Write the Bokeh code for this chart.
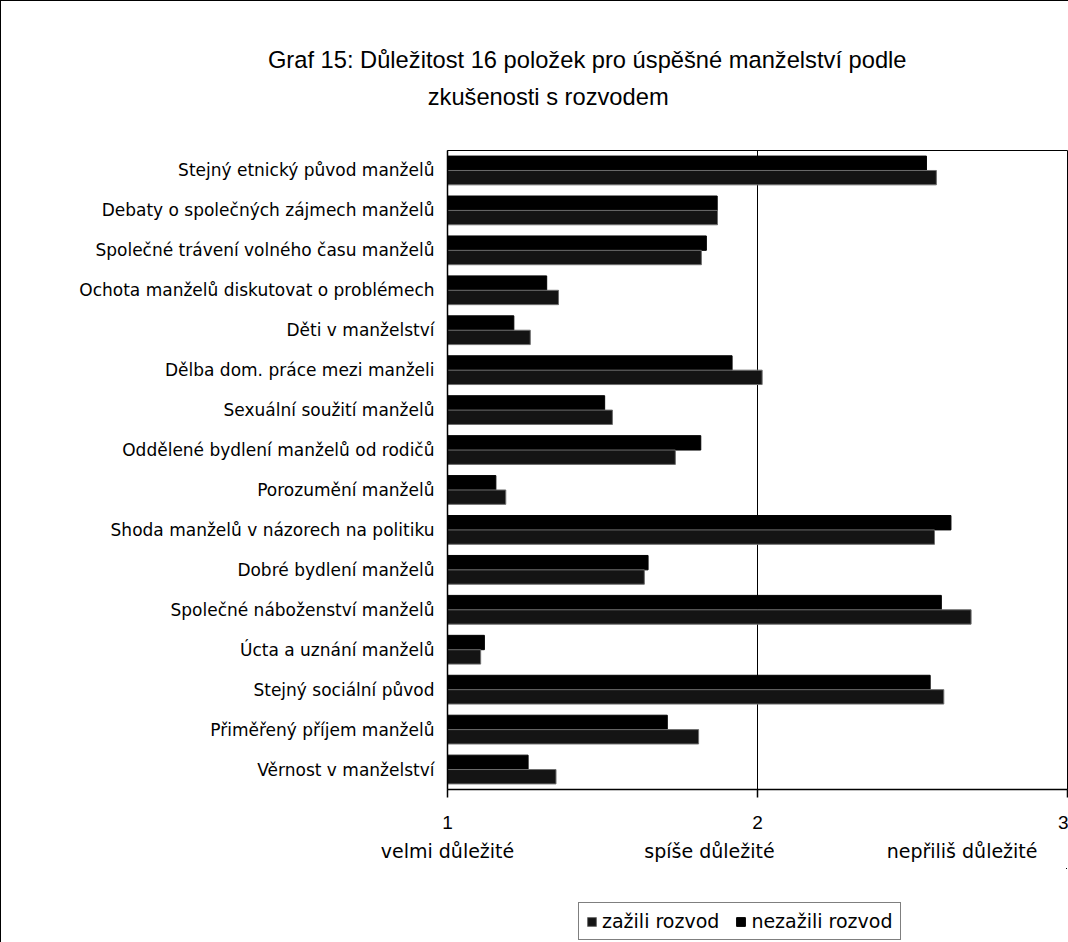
from bokeh.plotting import figure
from bokeh.layouts import column
from bokeh.models import (Range1d, FactorRange, ColumnDataSource, Legend,
                          LegendItem, LinearAxis, FixedTicker)
from bokeh.transform import dodge
from bokeh.embed import file_html
from bokeh.resources import INLINE

title_lines = ["Graf 15: Důležitost 16 položek pro úspěšné manželství podle",
               "zkušenosti s rozvodem"]
title_centers = [1.4507, 1.3247]   # horizontal centre of each title line, in x units

categories = [
    "Stejný etnický původ manželů",
    "Debaty o společných zájmech manželů",
    "Společné trávení volného času manželů",
    "Ochota manželů diskutovat o problémech",
    "Děti v manželství",
    "Dělba dom. práce mezi manželi",
    "Sexuální soužití manželů",
    "Oddělené bydlení manželů od rodičů",
    "Porozumění manželů",
    "Shoda manželů v názorech na politiku",
    "Dobré bydlení manželů",
    "Společné náboženství manželů",
    "Úcta a uznání manželů",
    "Stejný sociální původ",
    "Přiměřený příjem manželů",
    "Věrnost v manželství",
]

# values (scale 1 = velmi důležité ... 3 = nepříliš důležité)
nezazili = [2.545, 1.870, 1.835, 1.320, 1.214, 1.918, 1.507, 1.817,
            1.156, 2.624, 1.647, 2.593, 1.119, 2.557, 1.709, 1.260]
zazili = [2.577, 1.871, 1.819, 1.358, 1.267, 2.015, 1.532, 1.735,
          1.188, 2.571, 1.635, 2.689, 1.107, 2.601, 1.810, 1.350]

series_names = ["zažili rozvod", "nezažili rozvod"]
series_fill = ["#141414", "#000000"]
series_line = ["#6e6e6e", "#000000"]
x_ticks = [1, 2, 3]
scale_positions = [1.0, 1.845, 2.66]
scale_labels = ["velmi důležité", "spíše důležité", "nepřiliš důležité"]

src = ColumnDataSource(dict(cat=categories, zazili=zazili, nezazili=nezazili))

frame_style = {"border-left": "1px solid black"}

p = figure(y_range=FactorRange(factors=categories[::-1]),
           x_range=Range1d(1, 3), title=None,
           frame_width=619, frame_height=638,
           min_border_left=446, min_border_right=2,
           min_border_top=149, min_border_bottom=80,
           output_backend="svg", toolbar_location=None,
           background_fill_color="white", border_fill_color="white",
           styles={"border-left": "1px solid black", "border-top": "1px solid black"})

xax = p.below[0]
yax = p.left[0]

r_nez = p.hbar(y=dodge("cat", 0.18, range=p.y_range), left=1, right="nezazili",
               height=0.36, fill_color=series_fill[1], line_color=series_line[1],
               line_width=1, source=src)
r_zaz = p.hbar(y=dodge("cat", -0.18, range=p.y_range), left=1, right="zazili",
               height=0.36, fill_color=series_fill[0], line_color=series_line[0],
               line_width=1, source=src)


def text_axis(ticks, labels, standoff, font, size):
    ax = LinearAxis(ticker=FixedTicker(ticks=list(ticks)),
                    major_label_overrides=dict(zip(ticks, labels)))
    ax.axis_line_color = None
    ax.major_tick_line_color = None
    ax.minor_tick_line_color = None
    ax.major_tick_out = 0
    ax.major_tick_in = 0
    ax.minor_tick_out = 0
    ax.minor_tick_in = 0
    ax.major_label_standoff = standoff
    ax.major_label_text_font = font
    ax.major_label_text_font_size = size
    ax.major_label_text_color = "black"
    return ax


# chart title (two centred lines above the plot)
p.add_layout(text_axis([title_centers[1]], [title_lines[1]], 41,
                       "Liberation Sans", "23.7px"), "above")
p.add_layout(text_axis([title_centers[0]], [title_lines[0]], 8,
                       "Liberation Sans", "23.7px"), "above")

p.outline_line_color = "black"
p.outline_line_width = 1

yax.major_tick_out = 0
yax.major_tick_in = 0
yax.axis_line_color = "black"
yax.axis_line_width = 1.5
yax.major_label_standoff = 13
yax.major_label_text_font = "DejaVu Sans"
yax.major_label_text_font_size = "17px"
yax.major_label_text_color = "black"

xax.ticker = FixedTicker(ticks=x_ticks)
xax.major_tick_out = 8
xax.major_tick_in = 0
xax.minor_tick_out = 0
xax.minor_tick_in = 0
xax.axis_line_color = "black"
xax.axis_line_width = 1.5
xax.major_tick_line_color = "black"
xax.major_tick_line_width = 1.5
xax.major_label_standoff = 18
xax.major_label_text_font = "Liberation Sans"
xax.major_label_text_font_size = "19px"
xax.major_label_text_color = "black"

# verbal meaning of the scale under the numbers
p.add_layout(text_axis(scale_positions, scale_labels, 8, "DejaVu Sans", "19px"), "below")

p.xgrid.ticker = FixedTicker(ticks=[2])
p.xgrid.grid_line_color = "black"
p.xgrid.grid_line_width = 1
p.ygrid.visible = False

# legend strip below the chart (its frame is aligned with the chart's frame);
# the series are drawn here out of view only so that the legend has glyphs to show
lg = figure(width=1067, height=75, x_range=Range1d(-1, 0), y_range=Range1d(-1, 0),
            x_axis_type=None, y_axis_type=None, title=None,
            min_border=0, output_backend="svg", toolbar_location=None,
            outline_line_color=None, background_fill_color="white",
            border_fill_color="white", styles=frame_style)
lg.grid.visible = False
g_zaz = lg.hbar(y="zazili", left=1, right="zazili", height=0.01,
                fill_color=series_fill[0], line_color=series_line[0], source=src)
g_nez = lg.hbar(y="nezazili", left=1, right="nezazili", height=0.01,
                fill_color=series_fill[1], line_color=series_line[1], source=src)

legend = Legend(items=[LegendItem(label=series_names[0], renderers=[g_zaz]),
                       LegendItem(label=series_names[1], renderers=[g_nez])],
                location=(131, 3), orientation="horizontal",
                border_line_color="black", border_line_width=1,
                label_text_font="DejaVu Sans", label_text_font_size="19px",
                label_text_color="black",
                glyph_width=11, glyph_height=11, label_standoff=5,
                spacing=16, padding=7, margin=0)
lg.add_layout(legend)

layout = column(p, lg, spacing=0)

open("out.html", "w").write(file_html(layout, INLINE))
